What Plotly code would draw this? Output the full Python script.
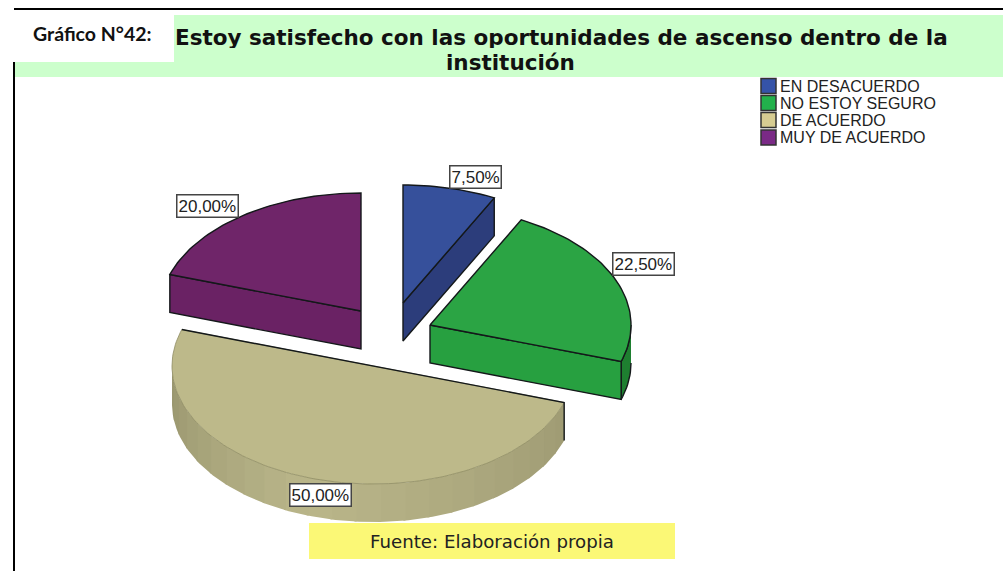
import math
import plotly.graph_objects as go

# ---- data ----
categories = ["EN DESACUERDO", "NO ESTOY SEGURO", "DE ACUERDO", "MUY DE ACUERDO"]
values = [7.5, 22.5, 50.0, 20.0]
title_lines = ["Estoy satisfecho con las oportunidades de ascenso dentro de la", "institución"]

# ---- styling ----
W, H = 1003, 571
top_colors = ["#36509B", "#2BA444", "#BDB98A", "#6F2569"]
side_colors = ["#2C3D7B", "#27A040", "#A8A47A", "#6A2264"]
rim_colors = ["#2C3D7B", "#1E7F30", None, "#6A2264"]
legend_colors = ["#3553A8", "#22B14C", "#D6CC92", "#7A2A86"]
apex = [(403, 303), (430, 325), (373, 366), (361, 311)]
label_pos = [(475.5, 177), (643.5, 263.5), (320, 494.5), (207, 205.5)]
A, B, DEPTH = 201, 118, 38
LINE = "#14181A"


def pt(c, deg, dy=0):
    t = math.radians(deg)
    return c[0] + A * math.sin(t), c[1] - B * math.cos(t) + dy


def arc(c, a0, a1, dy=0, step=1.5):
    n = max(2, int(abs(a1 - a0) / step))
    return [pt(c, a0 + (a1 - a0) * i / n, dy) for i in range(n + 1)]


def poly(fig, pts, fill, line=None, width=1.4):
    fig.add_trace(go.Scatter(
        x=[p[0] for p in pts], y=[p[1] for p in pts], mode="lines",
        fill="toself" if fill else None, fillcolor=fill,
        line=dict(color=line or fill or "rgba(0,0,0,0)", width=width if line else 0),
        hoverinfo="skip", showlegend=False))


def mix(a, b, f):
    return "#%02X%02X%02X" % tuple(round(a[i] + (b[i] - a[i]) * f) for i in range(3))


fig = go.Figure()

# slice angles from the values, clockwise from 12 o'clock
total = sum(values)
angles, acc = [], 0.0
for v in values:
    angles.append((acc * 3.6 * 100 / total, (acc + v) * 3.6 * 100 / total))
    acc += v

# blue slice
c, (a0, a1) = apex[0], angles[0]
end = pt(c, a1)
poly(fig, [c, end, (end[0], end[1] + DEPTH), (c[0], c[1] + DEPTH), c], side_colors[0], LINE)
poly(fig, [c] + arc(c, a0, a1) + [c], top_colors[0], LINE)

# purple slice
c, (a0, a1) = apex[3], angles[3]
st = pt(c, a0)
poly(fig, [c, st, (st[0], st[1] + DEPTH), (c[0], c[1] + DEPTH), c], side_colors[3], LINE)
poly(fig, [c] + arc(c, a0, a1) + [c], top_colors[3], LINE)

# green slice
c, (a0, a1) = apex[1], angles[1]
end = pt(c, a1)
poly(fig, arc(c, 90, a1) + arc(c, a1, 90, DEPTH), rim_colors[1], LINE)
poly(fig, [c, end, (end[0], end[1] + DEPTH), (c[0], c[1] + DEPTH), c], side_colors[1], LINE)
poly(fig, [c] + arc(c, a0, a1) + [c], top_colors[1], LINE)

# tan slice: faceted rim, then top
c, (a0, a1) = apex[2], angles[2]
dark_r, light, dark_l = (160, 156, 116), (186, 182, 138), (150, 147, 108)
deg, step = a0, 7.0
while deg < 270:
    nxt = min(deg + step, 270)
    if deg < 195:
        col = mix(dark_r, light, (deg - a0) / (195 - a0))
    else:
        col = mix(light, dark_l, (deg - 195) / 75)
    poly(fig, arc(c, deg - 0.3, nxt + 0.3) + arc(c, nxt + 0.3, deg - 0.3, DEPTH), col)
    deg = nxt
poly(fig, [c] + arc(c, a0, a1) + [c], top_colors[2], "#8E8B62", 0.8)
s, e = pt(c, a0), pt(c, a1)
poly(fig, [e, c, s, (s[0], s[1] + DEPTH)], None, LINE)

# legend drawn with the categories
legend_y = [86, 103, 120, 137.5]
fig.add_trace(go.Scatter(
    x=[768.5] * 4, y=legend_y, mode="markers",
    marker=dict(symbol="square", size=15, color=legend_colors, line=dict(color="#333", width=1.5)),
    hoverinfo="skip", showlegend=False))
fig.add_trace(go.Scatter(
    x=[780] * 4, y=[v + 1.8 for v in legend_y], mode="text",
    text=categories, textposition="middle right",
    textfont=dict(family="Liberation Sans", size=16, color="#222"),
    hoverinfo="skip", showlegend=False))

shapes = [
    dict(type="rect", x0=14, x1=W, y0=15, y1=77, fillcolor="#CCFFCC", line_width=0, layer="below"),
    dict(type="rect", x0=0, x1=174, y0=10, y1=62, fillcolor="#FFFFFF", line_width=0, layer="below"),
    dict(type="line", x0=14, x1=W, y0=9, y1=9, line=dict(color="#000", width=2), layer="below"),
    dict(type="line", x0=14, x1=14, y0=62, y1=H, line=dict(color="#000", width=2), layer="below"),
    dict(type="rect", x0=309, x1=675, y0=523, y1=559, fillcolor="#FBF876", line_width=0, layer="below"),
]

annotations = [
    dict(x=92, y=33, text="<b>Gráfico N°42:</b>", font=dict(family="Lato", size=19.5, color="#111")),
    dict(x=561.5, y=37, height=21, text="<b>" + title_lines[0] + "</b>", font=dict(family="DejaVu Sans", size=21.5, color="#111")),
    dict(x=510, y=62, height=21, text="<b>" + title_lines[1] + "</b>", font=dict(family="DejaVu Sans", size=21.5, color="#111")),
    dict(x=492, y=541, text="Fuente: Elaboración propia", font=dict(family="DejaVu Sans", size=18.2, color="#222")),
]
for v, (x, y) in zip(values, label_pos):
    annotations.append(dict(
        x=x, y=y, text=f"{v:.2f}%".replace(".", ","),
        font=dict(family="Liberation Sans", size=17, color="#222"),
        bgcolor="#FFFFFF", bordercolor="#444", borderwidth=1.5, borderpad=1))
for a in annotations:
    a.update(showarrow=False, xref="x", yref="y", xanchor="center", yanchor="middle")

fig.update_layout(
    width=W, height=H, margin=dict(l=0, r=0, t=0, b=0),
    paper_bgcolor="#FFFFFF", plot_bgcolor="#FFFFFF", showlegend=False,
    xaxis=dict(range=[0, W], visible=False, fixedrange=True),
    yaxis=dict(range=[H, 0], visible=False, fixedrange=True),
    shapes=shapes, annotations=annotations)

fig.write_html("out.html", config={"displayModeBar": False},
               post_script="document.body.style.margin='0';document.body.style.overflow='hidden';")
